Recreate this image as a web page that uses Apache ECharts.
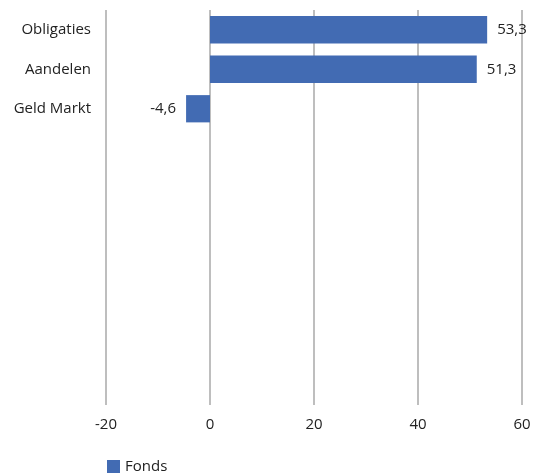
<!DOCTYPE html>
<html>
<head>
<meta charset="utf-8">
<script src="https://cdn.jsdelivr.net/npm/echarts@6/dist/echarts.min.js"></script>
<style>
  html, body { margin: 0; padding: 0; background: #fff; }
  #chart { width: 534px; height: 473px; }
</style>
</head>
<body>
<div id="chart"></div>
<script>
// categories, top to bottom (the empty slots are blank rows in the original)
const categories = ['Obligaties', 'Aandelen', 'Geld Markt', '', '', '', '', '', '', ''];
const fondsValues = [53.3, 51.3, -4.6, null, null, null, null, null, null, null];
const seriesName = 'Fonds';

const font = '"Open Sans", "Noto Sans", sans-serif';
const textColor = '#222';
const fontSize = 15;

// negative values get their label on the left of the bar
const barData = fondsValues.map((v) => {
  if (v === null) return null;
  return { value: v, label: { position: v < 0 ? 'left' : 'right' } };
});

const chart = echarts.init(document.getElementById('chart'));

const option = {
  animation: false,
  textStyle: { fontFamily: font },
  grid: {
    left: 106,
    right: 12,
    top: 10,
    bottom: 68,
    containLabel: false
  },
  legend: {
    left: 102,
    top: 454,
    itemWidth: 13,
    itemHeight: 13,
    itemGap: 8,
    icon: 'rect',
    textStyle: { fontFamily: font, fontSize: fontSize, color: textColor },
    data: [seriesName]
  },
  xAxis: {
    type: 'value',
    min: -20,
    max: 60,
    interval: 20,
    axisLine: { show: false },
    axisTick: { show: false },
    axisLabel: {
      margin: 12,
      fontFamily: font,
      fontSize: fontSize,
      color: textColor
    },
    splitLine: {
      show: true,
      lineStyle: { color: '#a8a8a8', width: 1.5 }
    }
  },
  yAxis: {
    type: 'category',
    inverse: true,
    data: categories,
    axisLine: { show: false },
    axisTick: { show: false },
    axisLabel: {
      margin: 15,
      fontFamily: font,
      fontSize: fontSize,
      color: textColor
    }
  },
  series: [
    {
      name: seriesName,
      type: 'bar',
      data: barData,
      barCategoryGap: '31%',
      itemStyle: { color: '#426bb3' },
      label: {
        show: true,
        position: 'right',
        distance: 10,
        fontFamily: font,
        fontSize: fontSize,
        color: textColor,
        formatter: (p) => String(p.value).replace('.', ',')
      }
    }
  ]
};

chart.setOption(option);
</script>
</body>
</html>
